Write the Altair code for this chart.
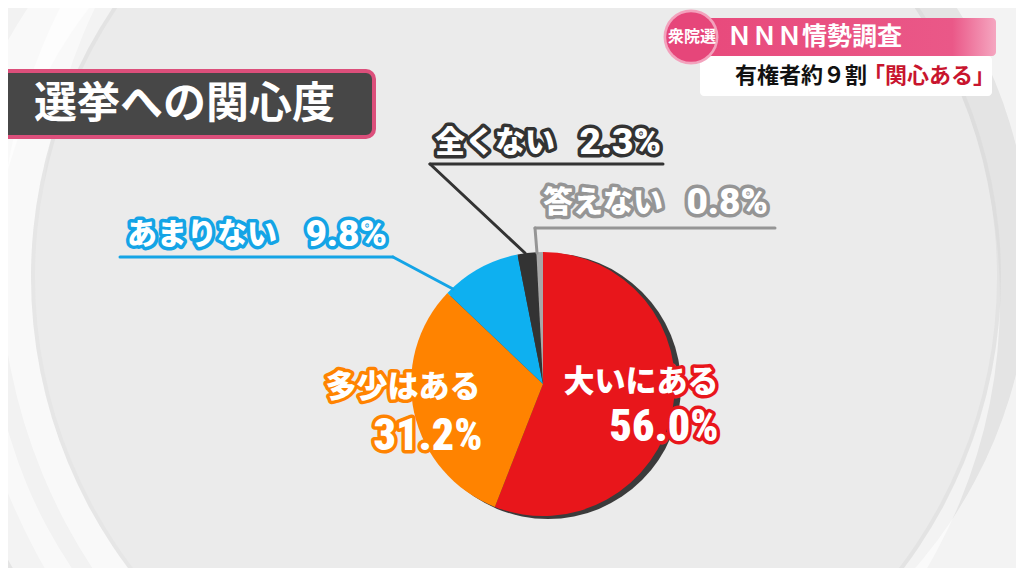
import math
import altair as alt
import pandas as pd

# ---------------- data ----------------
categories = ["大いにある", "多少はある", "あまりない", "全くない", "答えない"]
values = [56.0, 31.2, 9.8, 2.3, 0.8]
slice_colors = ["#e8161b", "#ff8300", "#0eb0f0", "#333333", "#a8a8a8"]
outline_colors = ["#e8161b", "#ff8300", "#14a4e6", "#333333", "#959595"]

title_text = "選挙への関心度"
badge_text = "衆院選"
banner_text = "ＮＮＮ情勢調査"
sub_text_a = "有権者約９割"
sub_text_b = "「関心ある」"

# ---------------- layout (page pixels) ----------------
OFF = 8
def P(v):
    return v - OFF

W, H = 1008, 560
CX, CY, R = 543, 384, 132
JP = "Noto Sans CJK JP"
NUM_NARROW = "'Roboto Condensed', 'Liberation Sans Narrow', 'Arial Narrow', Roboto"
NUM_WIDE = "Roboto, 'Liberation Sans', Arial"

# label layout: name position/align, pct position/align, font sizes, pct font
label_layout = [
    dict(nx=641, ny=383, na="center", px=664, py=428, pa="center", ns=31, ps=44, pf=NUM_NARROW),
    dict(nx=403, ny=388, na="center", px=428, py=437, pa="center", ns=31, ps=44, pf=NUM_NARROW),
    dict(nx=127, ny=235, na="left", px=387, py=235, pa="right", ns=30, ps=37, pf=NUM_WIDE),
    dict(nx=435, ny=143, na="left", px=661, py=143, pa="right", ns=30, ps=37, pf=NUM_WIDE),
    dict(nx=543, ny=203, na="left", px=768, py=203, pa="right", ns=30, ps=37, pf=NUM_WIDE),
]
# leader lines: (x, y, x2, y2, color index)
leader_segments = [
    (120, 257, 393, 257, 2), (393, 257, 453, 289, 2),
    (430, 164, 663, 164, 3), (430, 164, 525, 253, 3),
    (535, 228, 775, 228, 4), (535, 228, 537, 253, 4),
]

pie_df = pd.DataFrame({
    "cat": categories,
    "value": values,
    "idx": list(range(len(categories))),
})
color_scale = alt.Scale(domain=categories, range=slice_colors)

layers = []
one = pd.DataFrame({"a": [0]})

# background: swirl bands and central disk
bands = [
    dict(cx=560, cy=260, r0=470, r1=560, col="#f6f6f6", op=0.85),
    dict(cx=470, cy=300, r0=480, r1=530, col="#ffffff", op=0.55),
    dict(cx=600, cy=250, r0=560, r1=640, col="#ffffff", op=0.5),
    dict(cx=516, cy=277, r0=478, r1=485, col="#d9d9d9", op=0.6),
    dict(cx=516, cy=277, r0=0, r1=481, col="#ebebeb", op=1.0),
]
for b in bands:
    layers.append(
        alt.Chart(one).mark_arc(
            innerRadius=b["r0"], outerRadius=b["r1"], theta=0, theta2=2 * math.pi,
            color=b["col"], opacity=b["op"]
        ).encode(x=alt.value(P(b["cx"])), y=alt.value(P(b["cy"])))
    )

# pie shadow
layers.append(
    alt.Chart(one).mark_arc(
        outerRadius=R + 1, theta=0, theta2=2 * math.pi, color="#1c1c1c", opacity=0.85
    ).encode(x=alt.value(P(CX + 5)), y=alt.value(P(CY + 2)))
)

# pie
layers.append(
    alt.Chart(pie_df).mark_arc(outerRadius=R).encode(
        theta=alt.Theta("value:Q", stack=True),
        color=alt.Color("cat:N", scale=color_scale, legend=None),
        order=alt.Order("idx:Q"),
        x=alt.value(P(CX)),
        y=alt.value(P(CY)),
    )
)

# leader lines
seg_df = pd.DataFrame({
    "x": [P(s[0]) for s in leader_segments],
    "y": [P(s[1]) for s in leader_segments],
    "x2": [P(s[2]) for s in leader_segments],
    "y2": [P(s[3]) for s in leader_segments],
    "c": [outline_colors[s[4]] for s in leader_segments],
})
layers.append(
    alt.Chart(seg_df).mark_rule(strokeWidth=3, strokeCap="round").encode(
        x=alt.X("x:Q", scale=None), y=alt.Y("y:Q", scale=None),
        x2="x2:Q", y2="y2:Q",
        color=alt.Color("c:N", scale=None),
    )
)

# labels (outlined text)
def outlined(df, font, size, align, fill, stroke_w):
    enc = dict(
        x=alt.X("x:Q", scale=None), y=alt.Y("y:Q", scale=None), text="t:N",
    )
    under = alt.Chart(df).mark_text(
        font=font, fontSize=size, fontWeight=900, align=align, baseline="middle",
        strokeWidth=stroke_w, strokeJoin="round",
    ).encode(color=alt.Color("c:N", scale=None), stroke=alt.Stroke("c:N", scale=None), **enc)
    over = alt.Chart(df).mark_text(
        font=font, fontSize=size, fontWeight=900, align=align, baseline="middle",
        color=fill,
    ).encode(**enc)
    return [under, over]

for i, (cat, val) in enumerate(zip(categories, values)):
    L = label_layout[i]
    ndf = pd.DataFrame({"x": [P(L["nx"])], "y": [P(L["ny"])], "t": [cat], "c": [outline_colors[i]]})
    pdf = pd.DataFrame({"x": [P(L["px"])], "y": [P(L["py"])], "t": [f"{val:.1f}%"], "c": [outline_colors[i]]})
    layers += outlined(ndf, JP, L["ns"], L["na"], "#ffffff", 7)
    layers += outlined(pdf, L["pf"], L["ps"], L["pa"], "#ffffff", 7)

# title box
layers.append(
    alt.Chart(one).mark_rect(
        fill="#474747", stroke="#dc4f7b", strokeWidth=4, cornerRadius=8
    ).encode(x=alt.value(P(-20)), x2=alt.value(P(374)), y=alt.value(P(71)), y2=alt.value(P(137)))
)
layers.append(
    alt.Chart(one).mark_text(
        text=title_text, font=JP, fontSize=43, fontWeight="bold", color="#ffffff",
        align="left", baseline="middle"
    ).encode(x=alt.value(P(34)), y=alt.value(P(105)))
)

# top-right banners
layers.append(
    alt.Chart(one).mark_rect(cornerRadius=4, color="#ffffff").encode(
        x=alt.value(P(700)), x2=alt.value(P(992)), y=alt.value(P(56)), y2=alt.value(P(96)))
)
layers.append(
    alt.Chart(one).mark_rect(
        cornerRadius=4,
        color=alt.LinearGradient(
            gradient="linear", x1=0, x2=1, y1=0, y2=0,
            stops=[alt.GradientStop(color="#e84a7c", offset=0),
                   alt.GradientStop(color="#ea5888", offset=0.85),
                   alt.GradientStop(color="#f5a6c0", offset=1)],
        ),
    ).encode(x=alt.value(P(705)), x2=alt.value(P(996)), y=alt.value(P(18)), y2=alt.value(P(56)))
)
layers.append(
    alt.Chart(one).mark_circle(size=math.pi * 31 * 31, color="#f3a2bd", opacity=1).encode(
        x=alt.value(P(691)), y=alt.value(P(37)))
)
layers.append(
    alt.Chart(one).mark_circle(size=math.pi * 28 * 28, color="#e6467a", opacity=1).encode(
        x=alt.value(P(691)), y=alt.value(P(37)))
)
layers.append(
    alt.Chart(one).mark_text(
        text=badge_text, font=JP, fontSize=16, fontWeight="bold", color="#ffffff",
        align="center", baseline="middle"
    ).encode(x=alt.value(P(692)), y=alt.value(P(37)))
)
layers.append(
    alt.Chart(one).mark_text(
        text=banner_text, font=JP, fontSize=25, fontWeight="bold", color="#ffffff",
        align="left", baseline="middle"
    ).encode(x=alt.value(P(727)), y=alt.value(P(37)))
)
layers.append(
    alt.Chart(one).mark_text(
        text=sub_text_a, font=JP, fontSize=22, fontWeight="bold", color="#111111",
        align="left", baseline="middle"
    ).encode(x=alt.value(P(735)), y=alt.value(P(76)))
)
layers.append(
    alt.Chart(one).mark_text(
        text=sub_text_b, font=JP, fontSize=22, fontWeight="bold", color="#c8152e",
        align="right", baseline="middle"
    ).encode(x=alt.value(P(995)), y=alt.value(P(76)))
)

chart = alt.layer(*layers).properties(
    width=W, height=H, background="#e4e4e4", padding=0,
    autosize=alt.AutoSizeParams(type="none"),
).configure_view(stroke=None)

chart.save("out.html", embed_options={"renderer": "svg", "actions": False})
